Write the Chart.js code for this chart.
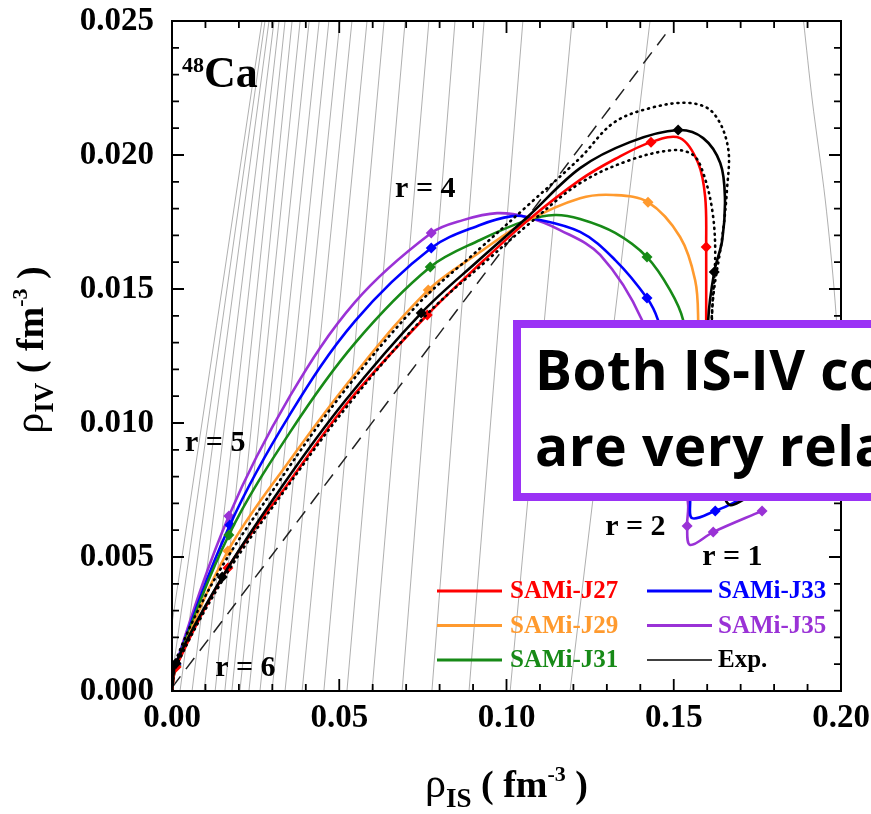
<!DOCTYPE html>
<html>
<head>
<meta charset="utf-8">
<script src="https://cdn.jsdelivr.net/npm/chart.js@4.4.2/dist/chart.umd.min.js"></script>
<style>
  html, body { margin: 0; padding: 0; background: #fff; overflow: hidden; }
  #wrap { position: relative; width: 871px; height: 814px; overflow: hidden; }
  #note {
    position: absolute; left: 513px; top: 320px; width: 440px; height: 181px;
    box-sizing: border-box; border: 8px solid #9a32f5; background: #fff;
    padding: 3px 0 0 14px; font: bold 55px/76px "Open Sans", sans-serif; color: #000;
    letter-spacing: 0.5px; white-space: nowrap;
  }
</style>
</head>
<body>
<div id="wrap">
  <canvas id="chart" width="871" height="814"></canvas>
  <div id="note">Both IS-IV correlations<br>are very related</div>
</div>
<script>
// ---- data (rho_IS, rho_IV in fm^-3) ----
const names = ['SAMi-J27', 'SAMi-J29', 'SAMi-J31', 'SAMi-J33', 'SAMi-J35', 'Exp.'];
const colors = ['#ff0000', '#ff9a2e', '#178a17', '#0000ff', '#9a32d6', '#000000'];

const j27_is = [0, 0.0012, 0.0167, 0.0344, 0.0529, 0.0763, 0.0933, 0.1065, 0.1220, 0.1325, 0.1432, 0.1519, 0.1573, 0.1594, 0.1597, 0.1597, 0.1600, 0.1615, 0.1683];
const j27_iv = [0, 0.00090, 0.00459, 0.00769, 0.01082, 0.01403, 0.01608, 0.01757, 0.01907, 0.01985, 0.02048, 0.02063, 0.01970, 0.01843, 0.01657, 0.01384, 0.01011, 0.00825, 0.00795];
const j27_mark = [0, 1, 1, 0, 0, 1, 0, 0, 0, 0, 1, 0, 0, 0, 1, 0, 0, 0, 0];

const j29_is = [0, 0.0012, 0.0167, 0.0353, 0.0547, 0.0766, 0.0921, 0.1062, 0.1220, 0.1319, 0.1423, 0.1519, 0.1564, 0.1573, 0.1573, 0.1585, 0.1653];
const j29_iv = [0, 0.00090, 0.00522, 0.00862, 0.01183, 0.01496, 0.01638, 0.01754, 0.01839, 0.01851, 0.01824, 0.01694, 0.01533, 0.01384, 0.01011, 0.00825, 0.00787];
const j29_mark = [0, 1, 1, 0, 0, 1, 0, 0, 0, 0, 1, 0, 0, 0, 0, 0, 0];

const j31_is = [0, 0.0012, 0.0170, 0.0353, 0.0547, 0.0772, 0.0921, 0.1062, 0.1145, 0.1220, 0.1325, 0.1420, 0.1489, 0.1528, 0.1549, 0.1564, 0.1639];
const j31_iv = [0, 0.00093, 0.00582, 0.00966, 0.01298, 0.01582, 0.01683, 0.01757, 0.01776, 0.01761, 0.01709, 0.01619, 0.01496, 0.01384, 0.01160, 0.00862, 0.00787];
const j31_mark = [0, 1, 1, 0, 0, 1, 0, 0, 0, 0, 0, 1, 0, 0, 0, 0, 0];

const j33_is = [0, 0.0012, 0.0173, 0.0353, 0.0547, 0.0775, 0.0921, 0.1017, 0.1062, 0.1220, 0.1325, 0.1420, 0.1453, 0.1504, 0.1543, 0.1549, 0.1555, 0.1624, 0.1677, 0.1713];
const j33_iv = [0, 0.00097, 0.00619, 0.01033, 0.01380, 0.01653, 0.01739, 0.01772, 0.01768, 0.01713, 0.01608, 0.01466, 0.01384, 0.01160, 0.00899, 0.00713, 0.00645, 0.00672, 0.00701, 0.00731];
const j33_mark = [0, 1, 1, 0, 0, 1, 0, 0, 0, 0, 0, 1, 0, 0, 0, 0, 0, 1, 0, 0];

const j35_is = [0, 0.0012, 0.0170, 0.0353, 0.0547, 0.0775, 0.0870, 0.0972, 0.1062, 0.1160, 0.1280, 0.1405, 0.1474, 0.1525, 0.1543, 0.1540, 0.1549, 0.1618, 0.1764];
const j35_iv = [0, 0.00101, 0.00653, 0.01101, 0.01451, 0.01709, 0.01757, 0.01783, 0.01768, 0.01720, 0.01627, 0.01384, 0.01086, 0.00862, 0.00694, 0.00616, 0.00545, 0.00593, 0.00672];
const j35_mark = [0, 1, 1, 0, 0, 1, 0, 0, 0, 0, 0, 0, 0, 0, 0, 1, 0, 1, 1];

const exp_is = [0, 0.0012, 0.0150, 0.0332, 0.0517, 0.0745, 0.0921, 0.1062, 0.1220, 0.1369, 0.1513, 0.1588, 0.1639, 0.1653, 0.1645, 0.1621, 0.1603, 0.1603, 0.1618, 0.1645, 0.1668, 0.1713];
const exp_iv = [0, 0.00104, 0.00425, 0.00769, 0.01082, 0.01410, 0.01612, 0.01768, 0.01951, 0.02048, 0.02093, 0.02063, 0.01970, 0.01843, 0.01683, 0.01563, 0.01384, 0.01086, 0.00862, 0.00742, 0.00694, 0.00716];
const exp_mark = [0, 1, 1, 0, 0, 1, 0, 0, 0, 0, 1, 0, 0, 0, 0, 1, 0, 0, 0, 0, 0, 0];

// experimental band (dotted)
const expHi_is = [0, 0.0012, 0.0138, 0.0323, 0.0508, 0.0736, 0.0915, 0.1062, 0.1220, 0.1319, 0.1429, 0.1549, 0.1618, 0.1662, 0.1659, 0.1645, 0.1618, 0.1612, 0.1621, 0.1645];
const expHi_iv = [0, 0.00116, 0.00440, 0.00787, 0.01108, 0.01444, 0.01645, 0.01810, 0.01989, 0.02119, 0.02175, 0.02194, 0.02157, 0.02030, 0.01869, 0.01694, 0.01470, 0.01272, 0.01011, 0.00825];
const expLo_is = [0, 0.0012, 0.0161, 0.0344, 0.0529, 0.0757, 0.0933, 0.1070, 0.1220, 0.1369, 0.1498, 0.1558, 0.1588, 0.1615, 0.1624, 0.1615, 0.1609, 0.1627];
const expLo_iv = [0, 0.00090, 0.00433, 0.00761, 0.01071, 0.01399, 0.01597, 0.01746, 0.01895, 0.01981, 0.02018, 0.02000, 0.01933, 0.01795, 0.01634, 0.01421, 0.01086, 0.00825];

// dashed diagonal
const diag_is = [0, 0.1475];
const diag_iv = [0.00013, 0.0245];

// grey background lines: rho_IS where each meets rho_IV = 0.025 (top) and rho_IV = 0 (bottom)
const guideTop = [0.0269, 0.0278, 0.0290, 0.0305, 0.0320, 0.0338, 0.0359, 0.0383, 0.0410, 0.0440, 0.0469, 0.0502, 0.0538, 0.0583, 0.0634, 0.0697, 0.0768, 0.0846, 0.0933, 0.1049, 0.1196, 0.1429];
const guideBottom = [-0.0030, -0.0006, 0.0024, 0.0060, 0.0096, 0.0129, 0.0158, 0.0179, 0.0203, 0.0230, 0.0263, 0.0299, 0.0338, 0.0389, 0.0454, 0.0523, 0.0598, 0.0688, 0.0777, 0.0888, 0.1011, 0.1190];
const edge_is = [0.1888, 0.1914, 0.1953, 0.1982, 0.2000, 0.2010];
const edge_iv = [0.0250, 0.02205, 0.01832, 0.01459, 0.01086, 0.0070];

// in-plot labels
const labelText = ['r = 4', 'r = 5', 'r = 6', 'r = 2', 'r = 1'];
const labelIS = [0.0667, 0.0039, 0.0129, 0.1295, 0.1585];
const labelIV = [0.01843, 0.00895, 0.00056, 0.00582, 0.00470];

// ---- build datasets ----
const pts = (xs, ys) => xs.map((x, i) => ({ x, y: ys[i] }));

function curve(xs, ys, marks, color, order, width) {
  return {
    data: pts(xs, ys),
    showLine: true,
    borderColor: color,
    backgroundColor: color,
    borderWidth: width,
    tension: 0.35,
    pointStyle: 'rectRot',
    pointRadius: marks.map(m => m ? 5.5 : 0),
    pointBorderWidth: 0,
    pointBackgroundColor: color,
    order
  };
}

const datasets = [];
guideTop.forEach((t, i) => {
  datasets.push({
    data: pts([guideBottom[i], t], [0, 0.025]),
    showLine: true, borderColor: 'rgba(110,110,110,0.55)', borderWidth: 1,
    pointRadius: 0, order: 20
  });
});
datasets.push({
  data: pts(edge_is, edge_iv), showLine: true, tension: 0.3,
  borderColor: 'rgba(110,110,110,0.55)', borderWidth: 1, pointRadius: 0, order: 20
});
datasets.push({
  data: pts(diag_is, diag_iv), showLine: true, borderColor: '#222',
  borderWidth: 1.5, borderDash: [14, 9], pointRadius: 0, order: 15
});
datasets.push(curve(j35_is, j35_iv, j35_mark, colors[4], 8, 2.6));
datasets.push(curve(j33_is, j33_iv, j33_mark, colors[3], 7, 2.6));
datasets.push(curve(j31_is, j31_iv, j31_mark, colors[2], 6, 2.6));
datasets.push(curve(j29_is, j29_iv, j29_mark, colors[1], 5, 2.6));
datasets.push(curve(j27_is, j27_iv, j27_mark, colors[0], 4, 2.6));
[[expHi_is, expHi_iv], [expLo_is, expLo_iv]].forEach(([xs, ys]) => {
  datasets.push({
    data: pts(xs, ys), showLine: true, tension: 0.35, borderColor: '#000',
    borderWidth: 2.6, borderDash: [1, 5], borderCapStyle: 'round',
    pointRadius: 0, order: 3
  });
});
datasets.push(curve(exp_is, exp_iv, exp_mark, colors[5], 1, 2.6));

// ---- frame, inward ticks, titles, labels, legend ----
function drawRich(ctx, parts, x0, y0) {
  // parts: [text, font, dy]
  let x = x0;
  parts.forEach(([t, f, dy]) => {
    ctx.font = f;
    ctx.fillText(t, x, y0 + dy);
    x += ctx.measureText(t).width;
  });
}
function richWidth(ctx, parts) {
  return parts.reduce((w, [t, f]) => { ctx.font = f; return w + ctx.measureText(t).width; }, 0);
}

const serif = '"Liberation Serif", "Times New Roman", serif';

const decor = {
  id: 'decor',
  afterDatasetsDraw(chart) {
    const { ctx, chartArea: a, scales: { x, y } } = chart;
    ctx.save();
    ctx.strokeStyle = '#000';
    ctx.lineWidth = 2;
    ctx.strokeRect(a.left, a.top, a.right - a.left, a.bottom - a.top);
    ctx.lineWidth = 1.8;
    ctx.beginPath();
    x.ticks.forEach(t => {
      const px = x.getPixelForValue(t.value);
      const len = Math.round(t.value * 100) % 5 === 0 ? 12 : 7;
      ctx.moveTo(px, a.bottom); ctx.lineTo(px, a.bottom - len);
      ctx.moveTo(px, a.top); ctx.lineTo(px, a.top + len);
    });
    y.ticks.forEach(t => {
      const py = y.getPixelForValue(t.value);
      const len = Math.round(t.value * 1000) % 5 === 0 ? 12 : 7;
      ctx.moveTo(a.left, py); ctx.lineTo(a.left + len, py);
      ctx.moveTo(a.right, py); ctx.lineTo(a.right - len, py);
    });
    ctx.stroke();

    // in-plot labels
    ctx.fillStyle = '#000';
    ctx.textAlign = 'left';
    ctx.textBaseline = 'alphabetic';
    ctx.font = 'bold 30px ' + serif;
    labelText.forEach((t, i) => {
      ctx.fillText(t, x.getPixelForValue(labelIS[i]), y.getPixelForValue(labelIV[i]));
    });
    const cx = x.getPixelForValue(0.0030), cy = y.getPixelForValue(0.02254);
    drawRich(ctx, [['48', 'bold 22px ' + serif, -15], ['Ca', 'bold 44px ' + serif, 0]], cx, cy);

    // axis titles
    const title = sub => [['\u03c1', '42px ' + serif, 0], [sub, 'bold 27px ' + serif, 10],
                          [' ( fm', 'bold 38px ' + serif, 0], ['-3', 'bold 22px ' + serif, -16],
                          [' )', 'bold 38px ' + serif, 0]];
    const xt = title('IS'), yt = title('IV');
    const xw = richWidth(ctx, xt);
    drawRich(ctx, xt, (a.left + a.right) / 2 - xw / 2, 797);
    ctx.save();
    ctx.translate(43, 350);
    ctx.rotate(-Math.PI / 2);
    const yw = richWidth(ctx, yt);
    drawRich(ctx, yt, -yw / 2, 0);
    ctx.restore();

    // legend, two columns
    ctx.textBaseline = 'middle';
    ctx.font = 'bold 25px ' + serif;
    names.forEach((n, i) => {
      const col = Math.floor(i / 3), row = i % 3;
      const lx = a.left + 265 + col * 210;
      const ly = a.bottom - 100 + row * 34.5;
      ctx.strokeStyle = colors[i];
      ctx.lineWidth = n === 'Exp.' ? 1.5 : 3;
      ctx.beginPath(); ctx.moveTo(lx, ly); ctx.lineTo(lx + 65, ly); ctx.stroke();
      ctx.fillStyle = colors[i];
      ctx.fillText(n, lx + 73 - col * 2, ly + 1);
    });
    ctx.restore();
  }
};

const tickFont = { family: serif, weight: 'bold', size: 33 };

new Chart(document.getElementById('chart'), {
  type: 'scatter',
  data: { datasets },
  options: {
    responsive: false,
    animation: false,
    events: [],
    layout: { padding: { left: 0, top: 21, right: 30, bottom: 0 } },
    plugins: { legend: { display: false }, tooltip: { enabled: false } },
    scales: {
      x: {
        type: 'linear', min: 0, max: 0.2,
        grid: { display: false, drawTicks: false },
        border: { display: true, color: '#000', width: 2 },
        ticks: {
          stepSize: 0.01, autoSkip: false, maxRotation: 0, padding: 8,
          color: '#000', font: tickFont,
          callback: v => Math.round(v * 100) % 5 === 0 ? v.toFixed(2) : ''
        },
        afterFit: s => { s.height = 123; s.paddingLeft = 0; s.paddingRight = 0; }
      },
      y: {
        type: 'linear', min: 0, max: 0.025,
        grid: { display: false, drawTicks: false },
        border: { display: true, color: '#000', width: 2 },
        ticks: {
          stepSize: 0.001, autoSkip: false, padding: 18,
          color: '#000', font: tickFont,
          callback: v => Math.round(v * 1000) % 5 === 0 ? v.toFixed(3) : ''
        },
        afterFit: s => { s.width = 172; s.paddingTop = 0; s.paddingBottom = 0; }
      }
    }
  },
  plugins: [decor]
});
</script>
</body>
</html>
